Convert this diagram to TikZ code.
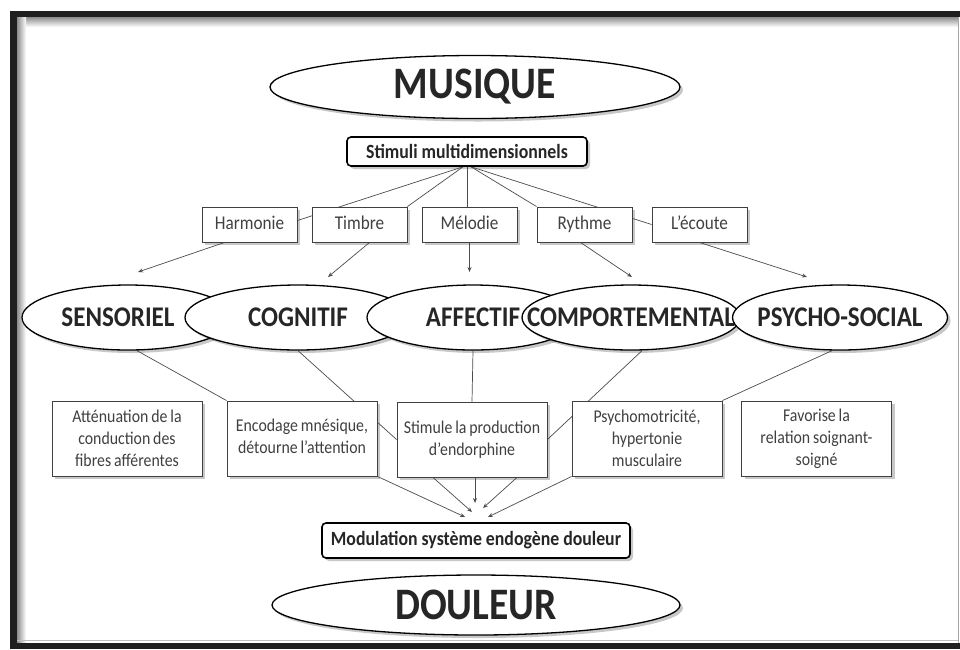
\documentclass[tikz,border=0pt]{standalone}
\usepackage{fontspec}
\setmainfont{Carlito}[FakeStretch=0.88]
\usetikzlibrary{shapes.geometric,arrows.meta,shadows}
\pgfdeclarelayer{bg}
\pgfsetlayers{bg,main}
\newcommand{\tightspace}{\spaceskip=0.16em plus 0.05em\relax}
\tikzset{
 shad/.style={drop shadow={shadow xshift=3pt,shadow yshift=-3pt,opacity=0.3,fill=black!70}},
 bigell/.style={ellipse,draw=black,line width=1.3pt,fill=white,inner sep=0pt,shad,font=\bfseries\fontsize{45}{45}\selectfont,text=black!85},
 catell/.style={ellipse,draw=black,line width=1.3pt,fill=white,inner sep=0pt,minimum height=65pt,shad,font=\bfseries\fontsize{28.5}{28.5}\selectfont,text=black!85},
 roundbox/.style={rectangle,rounded corners=4pt,draw=black,line width=1.6pt,fill=white,inner sep=0pt,shad,font=\bfseries\fontsize{20.2}{20.2}\selectfont,text=black!85},
 rowbox/.style={rectangle,draw=black!75,line width=0.9pt,fill=white,inner sep=0pt,minimum width=95pt,minimum height=35pt,text height=13pt,text depth=4pt,shad,font=\fontsize{19.5}{19.5}\selectfont,text=black!75},
 lowbox/.style={rectangle,draw=black!75,line width=0.9pt,fill=white,inner sep=0pt,minimum width=150pt,minimum height=75pt,shad,align=center,font=\fontsize{18}{22}\selectfont\tightspace,text=black!75},
 conn/.style={draw=black!70,line width=0.7pt},
 arr/.style={conn,-{Stealth[length=5pt,width=4pt]}},
}
\begin{document}
\begin{tikzpicture}[x=1pt,y=-1pt]
\useasboundingbox (0,0) rectangle (960,649);
% nodes
\node[bigell,minimum width=410pt,minimum height=63pt] (mus) at (475,87) {\makebox[0pt]{MUSIQUE}};
\node[roundbox,minimum width=240pt,minimum height=29pt] (stim) at (467,151.5) {Stimuli multidimensionnels};
\node[rowbox] (harm) at (249.5,224.5) {Harmonie};
\node[rowbox] (timb) at (359.5,224.5) {Timbre};
\node[rowbox] (melo) at (469.5,224.5) {Mélodie};
\node[rowbox] (ryth) at (584.5,224.5) {Rythme};
\node[rowbox] (ecou) at (699.5,224.5) {L’écoute};
\node[catell,minimum width=212pt] (sens) at (128,317.5) {\makebox[0pt]{\hspace*{-20pt}SENSORIEL}};
\node[catell,minimum width=226pt] (cogn) at (298,317.5) {\makebox[0pt]{COGNITIF}};
\node[catell,minimum width=212pt] (affe) at (473,317.5) {\makebox[0pt]{AFFECTIF}};
\node[catell,minimum width=218pt] (comp) at (631,317.5) {\makebox[0pt]{COMPORTEMENTAL}};
\node[catell,minimum width=215pt] (psyc) at (840,317.5) {\makebox[0pt]{PSYCHO-SOCIAL}};
\node[lowbox] (b1) at (127,438.5) {Atténuation de la\\conduction des\\fibres afférentes};
\node[lowbox] (b2) at (302,438.5) {\raisebox{4pt}{\shortstack{Encodage mnésique,\\[3pt]détourne l’attention}}};
\node[lowbox] (b3) at (472,439.5) {Stimule la production\\d’endorphine};
\node[lowbox] (b4) at (647,438.5) {Psychomotricité,\\hypertonie\\musculaire};
\node[lowbox] (b5) at (816.5,438.5) {Favorise la\\relation soignant-\\soigné};
\node[roundbox,minimum width=308pt,minimum height=35pt] (mod) at (476,540.5) {Modulation système endogène douleur};
\node[bigell,minimum width=408pt,minimum height=60pt] (dou) at (476,605) {\makebox[0pt]{DOULEUR}};
% arrow tips
\coordinate (tS) at (138,272);
\coordinate (tC) at (328,277);
\coordinate (tA) at (469.5,272);
\coordinate (tP) at (632,277);
\coordinate (tQ) at (807,277);
\coordinate (m1) at (465,517);
\coordinate (m2) at (472,512);
\coordinate (m3) at (475,503);
\coordinate (m4) at (483,508);
\coordinate (m5) at (488,517);
\begin{pgfonlayer}{bg}
\fill[white] (0,0) rectangle (960,649);
\shade[top color=black!45,bottom color=white] (17,17) rectangle (958,27);
\shade[left color=black!45,right color=white] (17,17) rectangle (26,643);
\draw[black!25,line width=1pt] (17,640.5) -- (958,640.5);
\fill[black!88] (10,11) rectangle (960,17);
\fill[black!88] (10,11) rectangle (17,649);
\fill[black!88] (10,643) rectangle (960,649);
\draw[black!35,line width=1pt] (958.5,17) -- (958.5,643);
% connectors
\draw[conn] ([xshift=-4pt]stim.south) -- ([yshift=4pt]harm.east);
\draw[conn] ([xshift=-4pt]stim.south) -- (timb.north east);
\draw[conn] (stim.south) -- (stim.south |- melo.north);
\draw[conn] ([xshift=4pt]stim.south) -- (ryth.north west);
\draw[conn] ([xshift=4pt]stim.south) -- (ecou.west);
\draw[arr] ([xshift=-25pt]harm.south) -- (tS);
\draw[arr] ([xshift=10pt]timb.south) -- (tC);
\draw[arr] (melo.south) -- (tA);
\draw[arr] ([xshift=-4pt]ryth.south) -- (tP);
\draw[arr] (ecou.south) -- (tQ);
\draw[conn] ([xshift=9pt]sens.south) -- (b2.north west);
\draw[conn] (cogn.south) -- (b3.west);
\draw[conn] (affe.south) -- (b3.north);
\draw[conn] ([xshift=11pt]comp.south) -- (b3.east);
\draw[conn] ([xshift=-8pt]psyc.south) -- (b4.north east);
\draw[arr] (b2.south east) -- (m1);
\draw[arr] ([xshift=-39pt]b3.south) -- (m2);
\draw[arr] ([xshift=3pt]b3.south) -- (m3);
\draw[arr] ([xshift=45pt]b3.south) -- (m4);
\draw[arr] (b4.south west) -- (m5);
\end{pgfonlayer}
\end{tikzpicture}
\end{document}
